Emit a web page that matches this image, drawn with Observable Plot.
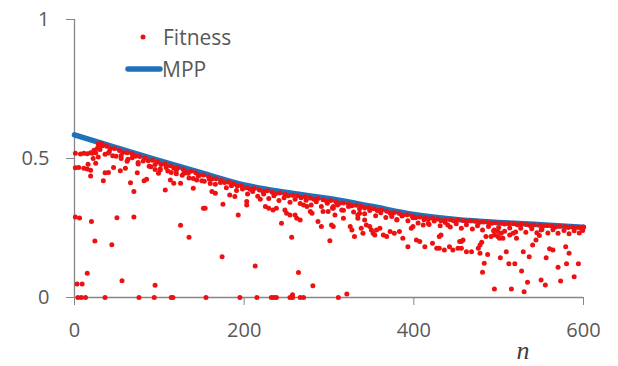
<!DOCTYPE html>
<html>
<head>
<meta charset="utf-8">
<script src="https://cdn.jsdelivr.net/npm/d3@7"></script>
<script src="https://cdn.jsdelivr.net/npm/@observablehq/plot@0.6"></script>
<style>
  html, body { margin: 0; padding: 0; background: #fff; }
  #wrap { position: relative; width: 618px; height: 366px; }
  #legend { position: absolute; left: 0; top: 0; }
</style>
</head>
<body>
<div id="wrap"></div>
<script>
// ---- data ----
const xTicks = [0, 200, 400, 600];
const xTickLabels = ["0", "200", "400", "600"];
const yTicks = [0, 0.5, 1];
const yTickLabels = ["0", "0.5", "1"];
const xLabel = "n";
const seriesNames = ["Fitness", "MPP"];

// MPP curve
const mppN = [0, 50, 100, 150, 200, 250, 300, 350, 400, 450, 500, 550, 600];
const mppV = [0.585, 0.538, 0.492, 0.448, 0.405, 0.378, 0.356, 0.328, 0.299, 0.281, 0.270, 0.262, 0.253];

// Fitness: dense band just under the MPP curve
const fitnessBand1 = [
  [19,0.521],[23,0.530],[27,0.537],[31,0.549],[32,0.555],
  [28,0.552],[33,0.546],[38,0.544],[42,0.535],[47,0.536],[53,0.529],[57,0.522],[62,0.521],[68,0.517],[72,0.508],
  [77,0.507],[83,0.502],[87,0.492],[92,0.494],[98,0.487],[102,0.478],[107,0.480],[113,0.474],[117,0.466],[122,0.467],
  [128,0.461],[132,0.452],[137,0.454],[143,0.449],[147,0.440],[152,0.441],[158,0.434],[162,0.426],[167,0.427],[173,0.421],
  [177,0.414],[182,0.415],[188,0.408],[192,0.401],[197,0.401],[203,0.395],[207,0.389],[212,0.392],[218,0.387],[222,0.381],
  [227,0.384],[233,0.379],[237,0.373],[242,0.376],[248,0.371],[252,0.366],[257,0.368],[263,0.366],[267,0.359],[272,0.362],
  [278,0.358],[282,0.353],[287,0.356],[293,0.352],[297,0.347],[302,0.349],[308,0.344],[312,0.338],[317,0.340],[323,0.336],
  [327,0.330],[332,0.332],[338,0.328],[342,0.322],[347,0.324],[353,0.319],[357,0.313],[362,0.315],[368,0.310],[372,0.304],
  [377,0.306],[383,0.302],[387,0.296],[392,0.298],[398,0.293],[402,0.287],[407,0.290],[413,0.287],[417,0.282],[422,0.285],
  [428,0.282],[432,0.276],[437,0.280],[443,0.280],[447,0.276],[452,0.279],[458,0.277],[462,0.273],[467,0.276],[473,0.274],
  [477,0.270],[482,0.272],[488,0.270],[492,0.267],[497,0.269],[503,0.267],[507,0.264],[512,0.266],[518,0.265],[522,0.262],
  [527,0.264],[533,0.263],[537,0.259],[542,0.262],[548,0.260],[552,0.257],[557,0.259],[563,0.257],[567,0.254],[572,0.256],
  [578,0.255],[582,0.252],[587,0.254],[593,0.253],[597,0.251],[600,0.254]
];
const fitnessBand2 = [
  [30,0.532],[36,0.515],[41,0.524],[49,0.508],[55,0.511],[63,0.497],[68,0.503],[75,0.486],[81,0.491],[88,0.472],
  [95,0.478],[101,0.462],[108,0.468],[114,0.450],[120,0.456],[127,0.440],[134,0.447],[140,0.428],[146,0.437],[153,0.418],
  [159,0.425],[166,0.407],[172,0.414],[179,0.395],[185,0.402],[191,0.385],[198,0.390],[204,0.372],[210,0.381],[216,0.364],
  [223,0.372],[229,0.356],[235,0.366],[241,0.349],[247,0.359],[254,0.343],[260,0.353],[266,0.338],[273,0.350],[279,0.333],
  [285,0.344],[291,0.327],[298,0.339],[304,0.322],[310,0.333],[317,0.314],[323,0.327],[329,0.308],[336,0.319],[342,0.301],
  [348,0.313],[355,0.294],[361,0.305],[367,0.288],[374,0.298],[380,0.281],[386,0.293],[393,0.276],[399,0.287],[405,0.268],
  [412,0.280],[418,0.263],[424,0.275],[431,0.258],[437,0.270],[443,0.254],[450,0.265],[456,0.249],[462,0.262],[469,0.246],
  [475,0.258],[481,0.243],[488,0.255],[494,0.240],[500,0.252],[507,0.238],[513,0.250],[520,0.236],[526,0.249],[532,0.235],
  [539,0.247],[545,0.233],[551,0.245],[558,0.232],[564,0.244],[570,0.231],[577,0.241],[583,0.229],[589,0.240],[595,0.232],
  [599,0.241]
];
// Fitness: scattered points below the band
const fitnessScatter = [
  [1,0.519],[7,0.516],[11,0.519],[15,0.517],[21,0.519],[25,0.521],
  [1,0.467],[5,0.468],[11,0.465],[15,0.462],[19,0.458],
  [16,0.479],[25,0.483],[19,0.437],[34,0.420],[36,0.449],[40,0.450],[46,0.468],[54,0.456],[60,0.465],[66,0.413],
  [70,0.381],[74,0.449],[85,0.425],[82,0.420],[99,0.447],[101,0.459],[107,0.387],[113,0.423],[117,0.411],[125,0.411],
  [129,0.447],[140,0.393],[144,0.423],[152,0.321],
  [22,0.500],[28,0.505],[40,0.520],[45,0.510],[55,0.500],[62,0.490],[75,0.480],[90,0.470],[95,0.460],[110,0.455],
  [120,0.445],[135,0.430],[150,0.420],[160,0.410],
  [154,0.321],[162,0.381],[166,0.375],[175,0.335],[183,0.369],[189,0.363],[193,0.297],[203,0.345],[203,0.333],[219,0.353],
  [225,0.327],[229,0.321],[234,0.315],[238,0.321],[244,0.267],[248,0.315],[250,0.303],[254,0.297],[260,0.297],[262,0.285],
  [266,0.279],[270,0.333],[274,0.327],[278,0.309],[280,0.303],[287,0.273],[291,0.255],[293,0.309],[299,0.309],[303,0.261],
  [305,0.327],[305,0.321],[307,0.297],[305,0.255],[315,0.315],[317,0.285],[325,0.255],[327,0.243],[330,0.219],[334,0.297],
  [334,0.285],[336,0.303],[338,0.249],[340,0.231],[342,0.279],[344,0.261],[348,0.255],[350,0.243],[352,0.231],[356,0.243],
  [360,0.249],[354,0.225],[364,0.225],[368,0.219],[372,0.237],[377,0.231],[383,0.237],[374,0.291],[380,0.279],[387,0.213],
  [393,0.183],[397,0.249],[399,0.255],[403,0.207],[407,0.201],[411,0.261],[417,0.267],[413,0.183],[422,0.195],[427,0.177],
  [430,0.177],[436,0.171],[442,0.183],[446,0.171],[452,0.177],[430,0.219],[432,0.225],[440,0.261],[456,0.201],[458,0.207],
  [454,0.201],[456,0.177],[462,0.165],[468,0.165],[476,0.177],[478,0.189],[480,0.199],[478,0.159],[483,0.123],[481,0.091],
  [487,0.155],[485,0.219],[491,0.219],[495,0.225],[499,0.219],[501,0.213],[505,0.213],[495,0.243],[499,0.237],[503,0.231],
  [495,0.031],[502,0.143],[509,0.165],[512,0.121],[519,0.121],[515,0.031],[513,0.225],[517,0.231],[521,0.213],[527,0.095],
  [529,0.165],[530,0.021],[534,0.055],[536,0.147],[540,0.189],[544,0.207],[548,0.223],[550,0.243],[550,0.063],[555,0.045],
  [556,0.143],[560,0.175],[564,0.171],[570,0.109],[573,0.059],[579,0.183],[580,0.121],[583,0.159],[589,0.075],[594,0.121],
  [1,0.290],[6,0.286],[20,0.273],[50,0.287],[70,0.290],[24,0.203],[44,0.190],[125,0.260],[135,0.217],[15,0.087],
  [3,0.049],[9,0.049],[56,0.060],[95,0.044],[174,0.147],[213,0.113],[256,0.217],[301,0.204],[264,0.090],[281,0.042],
  [321,0.013],[257,0.010]
];
// Fitness: points at zero
const fitnessZeroN = [4, 8, 13, 36, 76, 94, 114, 116, 155, 195, 215, 232, 235, 238, 254, 257, 266, 270, 311];

// ---- build ----
const mpp = mppN.map((n, i) => ({n, v: mppV[i]}));
const fitness = [
  ...fitnessBand1, ...fitnessBand2, ...fitnessScatter,
  ...fitnessZeroN.map(n => [n, 0])
].map(([n, v]) => ({n, v}));

const axisColor = "#868686";
const textColor = "#595959";
const red = "#ee1111";
const blue = "#1f72b8";

const chart = Plot.plot({
  width: 618,
  height: 366,
  marginLeft: 74,
  marginRight: 35,
  marginTop: 19,
  marginBottom: 69,
  style: {fontFamily: "'Open Sans', sans-serif", fontSize: "20px", color: textColor, background: "#fff"},
  x: {domain: [0, 600]},
  y: {domain: [0, 1]},
  marks: [
    Plot.ruleX([0], {stroke: axisColor, strokeWidth: 1.3}),
    Plot.ruleY([0], {stroke: axisColor, strokeWidth: 1.3}),
    Plot.axisY({ticks: yTicks, tickFormat: (d) => yTickLabels[yTicks.indexOf(d)], tickSize: 8, tickPadding: 17,
      stroke: axisColor, fill: textColor, fontSize: 20, label: null}),
    Plot.axisX({ticks: xTicks, tickFormat: (d) => xTickLabels[xTicks.indexOf(d)], tickSize: 8, tickPadding: 17,
      stroke: axisColor, fill: textColor, fontSize: 20, label: null}),
    Plot.line(mpp, {x: "n", y: "v", stroke: blue, strokeWidth: 5.5, curve: "monotone-x"}),
    Plot.dot(fitness, {x: "n", y: "v", r: 2.5, fill: red, stroke: "none"})
  ]
});

const wrap = document.getElementById("wrap");
wrap.appendChild(chart);

// legend + axis title overlay
const ns = "http://www.w3.org/2000/svg";
const leg = document.createElementNS(ns, "svg");
leg.setAttribute("id", "legend");
leg.setAttribute("width", 618);
leg.setAttribute("height", 366);
leg.innerHTML = `
  <circle cx="143" cy="37" r="2.5" fill="${red}"/>
  <text x="163" y="45" font-family="'Open Sans', sans-serif" font-size="21" fill="${textColor}">${seriesNames[0]}</text>
  <line x1="128" y1="69" x2="160" y2="69" stroke="${blue}" stroke-width="5.5" stroke-linecap="round"/>
  <text x="162" y="77" font-family="'Open Sans', sans-serif" font-size="21" fill="${textColor}">${seriesNames[1]}</text>
  <text x="523" y="359" text-anchor="middle" font-family="'Liberation Serif', serif" font-style="italic" font-size="26" fill="#404040">${xLabel}</text>
`;
wrap.appendChild(leg);
</script>
</body>
</html>
